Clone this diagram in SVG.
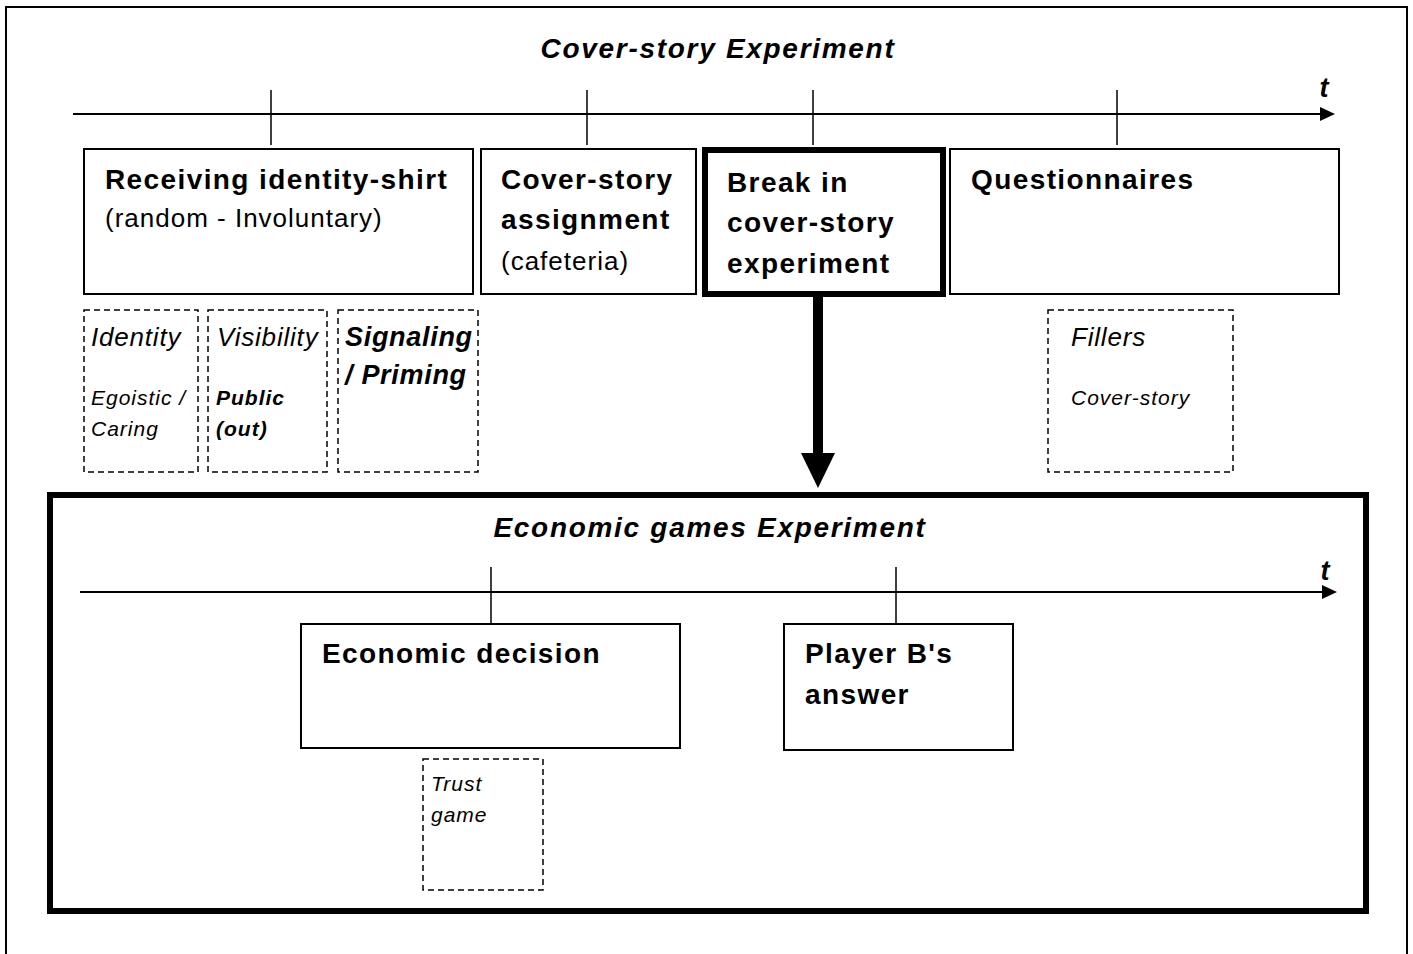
<svg xmlns="http://www.w3.org/2000/svg" width="1413" height="954" viewBox="0 0 1413 954">
  <style>
    text { font-family: "Liberation Sans", Arial, sans-serif; fill: #000; }
    .title { font-size: 28px; font-weight: bold; font-style: italic; letter-spacing: 1.7px; }
    .axis-t { font-size: 27px; font-weight: bold; font-style: italic; }
    .head { font-size: 28px; font-weight: bold; letter-spacing: 1.4px; }
    .sub { font-size: 26px; letter-spacing: 1px; }
    .lab { font-size: 26px; font-style: italic; letter-spacing: 0.8px; }
    .labb { font-size: 27px; font-style: italic; font-weight: bold; letter-spacing: 0.7px; }
    .small { font-size: 21px; font-style: italic; letter-spacing: 1px; }
    .smallb { font-size: 21px; font-style: italic; font-weight: bold; letter-spacing: 1px; }
    .tick { stroke: #000; stroke-width: 1.5; fill: none; }
    .axis { stroke: #000; stroke-width: 2; fill: none; }
    .box { fill: #fff; stroke: #000; stroke-width: 2; }
    .thick { fill: #fff; stroke: #000; stroke-width: 6; }
    .dash { fill: none; stroke: #000; stroke-width: 1.5; stroke-dasharray: 6 4; }
  </style>

  <rect width="1413" height="954" fill="#fff"/>
  <!-- outer frame -->
  <rect x="6" y="7" width="1401" height="960" fill="none" stroke="#000" stroke-width="2"/>

  <!-- upper timeline -->
  <g id="cover-timeline">
    <text class="title" x="718" y="58" text-anchor="middle">Cover-story Experiment</text>
    <text class="axis-t" x="1324" y="97" text-anchor="middle">t</text>
    <line class="axis" x1="73" y1="114" x2="1320" y2="114"/>
    <path d="M1320,107 L1335,114 L1320,121 Z" fill="#000"/>
    <line class="tick" x1="271" y1="90" x2="271" y2="145"/>
    <line class="tick" x1="587" y1="90" x2="587" y2="145"/>
    <line class="tick" x1="813" y1="90" x2="813" y2="145"/>
    <line class="tick" x1="1117" y1="90" x2="1117" y2="145"/>
  </g>

  <g id="receiving">
    <rect class="box" x="84" y="149" width="389" height="145"/>
    <text class="head" x="105" y="189">Receiving identity-shirt</text>
    <text class="sub" x="105" y="227">(random - Involuntary)</text>
  </g>
  <g id="assignment">
    <rect class="box" x="481" y="149" width="215" height="145"/>
    <text class="head" x="501" y="189">Cover-story</text>
    <text class="head" x="501" y="229">assignment</text>
    <text class="sub" x="501" y="270">(cafeteria)</text>
  </g>
  <g id="break">
    <rect class="thick" x="705" y="150" width="238" height="144"/>
    <text class="head" x="727" y="192">Break in</text>
    <text class="head" x="727" y="232">cover-story</text>
    <text class="head" x="727" y="273">experiment</text>
  </g>
  <g id="questionnaires">
    <rect class="box" x="950" y="149" width="389" height="145"/>
    <text class="head" x="971" y="189">Questionnaires</text>
  </g>

  <g id="identity">
    <rect class="dash" x="84" y="310" width="114" height="162"/>
    <text class="lab" x="91" y="346">Identity</text>
    <text class="small" x="91" y="405">Egoistic /</text>
    <text class="small" x="91" y="436">Caring</text>
  </g>
  <g id="visibility">
    <rect class="dash" x="208" y="310" width="119" height="162"/>
    <text class="lab" x="217" y="346">Visibility</text>
    <text class="smallb" x="216" y="405">Public</text>
    <text class="smallb" x="216" y="436">(out)</text>
  </g>
  <g id="signaling">
    <rect class="dash" x="338" y="310" width="140" height="162"/>
    <text class="labb" x="345" y="346">Signaling</text>
    <text class="labb" x="345" y="384">/ Priming</text>
  </g>
  <g id="fillers">
    <rect class="dash" x="1048" y="310" width="185" height="162"/>
    <text class="lab" x="1071" y="346">Fillers</text>
    <text class="small" x="1071" y="405">Cover-story</text>
  </g>

  <!-- connector from the break into the economic games -->
  <g id="connectors">
    <rect x="813" y="296" width="10" height="158" fill="#000"/>
    <path d="M801,453 L835,453 L818,488 Z" fill="#000"/>
  </g>

  <g id="economic-games">
    <rect class="thick" x="50" y="495" width="1316" height="416"/>
    <text class="title" x="710" y="537" text-anchor="middle">Economic games Experiment</text>
    <text class="axis-t" x="1325" y="580" text-anchor="middle">t</text>
    <line class="axis" x1="80" y1="592" x2="1322" y2="592"/>
    <path d="M1322,585 L1337,592 L1322,599 Z" fill="#000"/>
    <line class="tick" x1="491" y1="567" x2="491" y2="623"/>
    <line class="tick" x1="896" y1="567" x2="896" y2="623"/>
  </g>
  <g id="decision">
    <rect class="box" x="301" y="624" width="379" height="124"/>
    <text class="head" x="322" y="663">Economic decision</text>
  </g>
  <g id="player-b">
    <rect class="box" x="784" y="624" width="229" height="126"/>
    <text class="head" x="805" y="663">Player B's</text>
    <text class="head" x="805" y="704">answer</text>
  </g>
  <g id="trust">
    <rect class="dash" x="423" y="759" width="120" height="131"/>
    <text class="small" x="431" y="791">Trust</text>
    <text class="small" x="431" y="822">game</text>
  </g>
</svg>
